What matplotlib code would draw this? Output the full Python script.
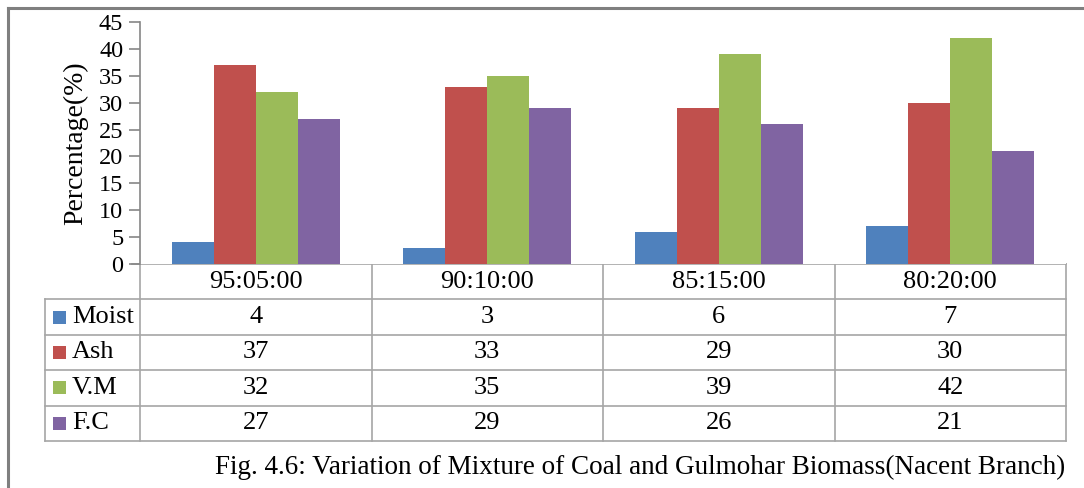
import numpy as np
import matplotlib.pyplot as plt
from matplotlib.patches import Rectangle

plt.rcParams['font.family'] = ['Liberation Serif', 'DejaVu Serif']

categories = ['95:05:00', '90:10:00', '85:15:00', '80:20:00']
series = ['Moist', 'Ash', 'V.M', 'F.C']
moist = [4, 3, 6, 7]
ash = [37, 33, 29, 30]
vm = [32, 35, 39, 42]
fc = [27, 29, 26, 21]
values = [moist, ash, vm, fc]
colors = ['#4F81BD', '#C0504D', '#9BBB59', '#8064A2']

W, H = 1084, 488
fig = plt.figure(figsize=(W / 100, H / 100), dpi=100)

# pixel layout of the plot area and the data table
x0, x1 = 140, 1066
y_top, y_zero = 22, 264
row_h = 35.4
col_w = (x1 - x0) / len(categories)
fs_table = 19

ax = fig.add_axes([x0 / W, 1 - y_zero / H, (x1 - x0) / W, (y_zero - y_top) / H])
bw = 0.181
xs = np.arange(len(categories)) + 0.5
for i, (vals, c) in enumerate(zip(values, colors)):
    ax.bar(xs + (i - 1.5) * bw, vals, width=bw, color=c, linewidth=0)
ax.set_xlim(0, len(categories))
ax.set_ylim(0, 45)
ax.set_yticks(range(0, 50, 5))
ax.set_xticks([])
for s in ['top', 'right', 'bottom']:
    ax.spines[s].set_visible(False)
ax.spines['left'].set_color('#868686')
ax.spines['left'].set_linewidth(1.2)
ax.tick_params(axis='y', direction='out', length=8, width=1.2, color='#868686',
               labelsize=17.5, pad=4)
ax.set_ylabel('Percentage(%)', fontsize=20, labelpad=8)

# overlay in pixel coordinates for the table, frame and caption
ov = fig.add_axes([0, 0, 1, 1], zorder=-1)
ov.set_xlim(0, W)
ov.set_ylim(H, 0)
ov.axis('off')

frame = '#7F7F7F'
ov.plot([8, W], [8, 8], color=frame, lw=2.2)
ov.plot([8, 8], [8, H], color=frame, lw=2.2)

grid = '#A6A6A6'
n_rows = len(series)
y_bottom = y_zero + row_h * (n_rows + 1)
# category axis line, extended left to the zero tick
ov.plot([132, x1], [y_zero, y_zero], color=grid, lw=1.2)
for k in range(n_rows + 1):
    y = y_zero + row_h * (k + 1)
    ov.plot([45, x1], [y, y], color=grid, lw=1.2)
ov.plot([45, 45], [y_zero + row_h, y_bottom], color=grid, lw=1.2)
for j in range(len(categories) + 1):
    xv = x0 + col_w * j
    ov.plot([xv, xv], [y_zero, y_bottom], color=grid, lw=1.2)

for j, cat in enumerate(categories):
    ov.text(x0 + col_w * (j + 0.5), y_zero + row_h * 0.5, cat,
            ha='center', va='center', fontsize=fs_table)

for k, (name, vals, c) in enumerate(zip(series, values, colors)):
    yc = y_zero + row_h * (k + 1.5)
    ov.add_patch(Rectangle((53, yc - 6.5), 13, 13, color=c, lw=0))
    ov.text(72, yc, name, ha='left', va='center', fontsize=fs_table)
    for j, v in enumerate(vals):
        ov.text(x0 + col_w * (j + 0.5), yc, str(v),
                ha='center', va='center', fontsize=fs_table)

ov.text(215, 467, 'Fig. 4.6: Variation of Mixture of Coal and Gulmohar Biomass(Nacent Branch)',
        ha='left', va='center', fontsize=19.5)

fig.savefig('out.png', dpi=100)
